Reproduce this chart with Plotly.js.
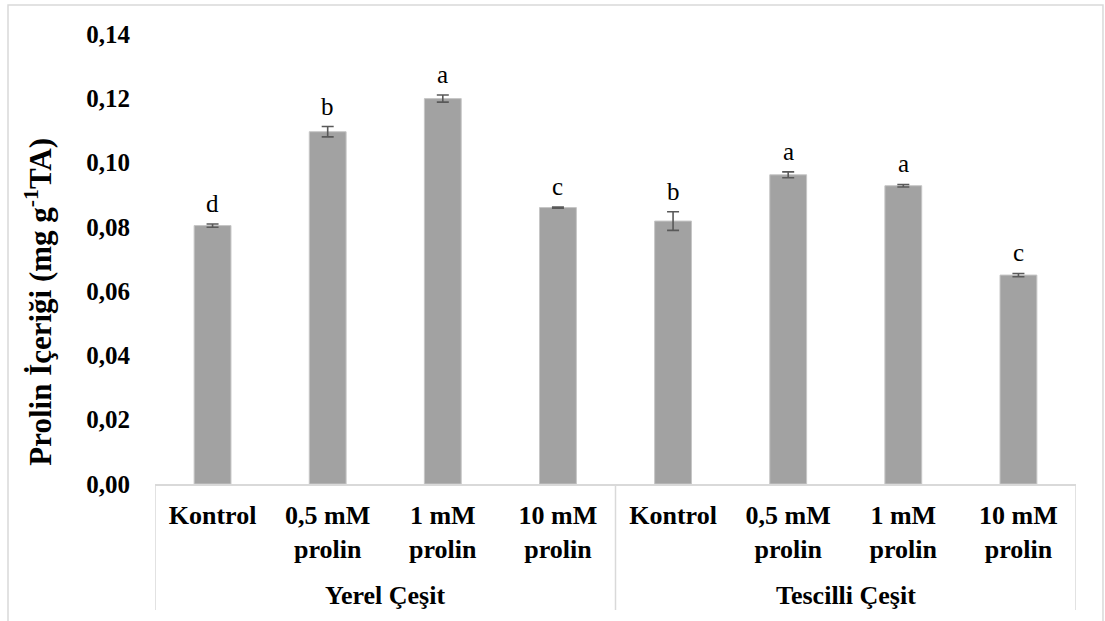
<!DOCTYPE html>
<html>
<head>
<meta charset="utf-8">
<script src="https://cdn.plot.ly/plotly-3.0.1.min.js"></script>
<style>
html,body{margin:0;padding:0;background:#fff;}
#chart{width:1105px;height:621px;}
</style>
</head>
<body>
<div id="chart"></div>
<script>
// Data
var categories = ["Kontrol", "0,5 mM<br>prolin", "1 mM<br>prolin", "10 mM<br>prolin",
                  "Kontrol", "0,5 mM<br>prolin", "1 mM<br>prolin", "10 mM<br>prolin"];
var groups = ["Yerel Çeşit", "Tescilli Çeşit"];
var groupCenters = [1.5, 5.5];
var values = [0.0804, 0.1096, 0.1199, 0.0860, 0.0818, 0.0962, 0.0928, 0.0650];
var errors = [0.0005, 0.0016, 0.0011, 0.0002, 0.0029, 0.0009, 0.0004, 0.0005];
var letters = ["d", "b", "a", "c", "b", "a", "a", "c"];
var yTicks = [0, 0.02, 0.04, 0.06, 0.08, 0.10, 0.12, 0.14];
var yTickText = ["0,00", "0,02", "0,04", "0,06", "0,08", "0,10", "0,12", "0,14"];

var xIdx = values.map(function(_, i){ return i; });

var trace = {
  type: 'bar',
  x: xIdx,
  y: values,
  width: 0.32,
  marker: {color: '#a2a2a2', line: {color: '#c6c6c6', width: 1}},
  error_y: {type: 'data', array: errors, visible: true, color: '#595959', thickness: 1.6, width: 6},
  hoverinfo: 'none'
};

var serif = 'Liberation Serif, Times New Roman, serif';
var annotations = [];
for (var i = 0; i < values.length; i++) {
  annotations.push({
    x: i, y: values[i] + errors[i], xref: 'x', yref: 'y',
    text: letters[i], showarrow: false, yanchor: 'bottom', yshift: 5,
    font: {family: serif, size: 25, color: '#000'}
  });
}
for (var g = 0; g < groups.length; g++) {
  annotations.push({
    x: groupCenters[g], y: -0.247, xref: 'x', yref: 'paper',
    text: '<b>' + groups[g] + '</b>', showarrow: false, yanchor: 'middle',
    font: {family: serif, size: 26, color: '#000'}
  });
}
annotations.push({
  x: -0.126, y: 0.405, xref: 'paper', yref: 'paper', textangle: -90,
  text: '<b>Prolin İçeriği (mg g<sup>-1</sup>TA)</b>', showarrow: false,
  xanchor: 'center', yanchor: 'middle',
  font: {family: serif, size: 31, color: '#000'}
});

var shapes = [];
[-0.5, 3.5, 7.5].forEach(function(xv){
  shapes.push({type: 'line', xref: 'x', yref: 'paper', x0: xv, x1: xv, y0: 0, y1: -0.28,
               line: {color: '#d9d9d9', width: 1.5}});
});
// outer chart border
shapes.push({type: 'rect', xref: 'paper', yref: 'paper', x0: -0.1596, x1: 1.0293, y0: -0.32, y1: 1.0644,
             line: {color: '#d9d9d9', width: 1.5}, fillcolor: 'rgba(0,0,0,0)'});

var layout = {
  width: 1105, height: 621,
  margin: {l: 155, r: 29, t: 34, b: 137},
  paper_bgcolor: '#fff', plot_bgcolor: '#fff',
  showlegend: false,
  font: {family: serif, color: '#000'},
  xaxis: {
    type: 'linear', range: [-0.5, 7.5],
    tickmode: 'array', tickvals: xIdx, ticktext: categories.map(function(c){ return '<b>' + c + '</b>'; }),
    ticks: '', showgrid: false, zeroline: false,
    showline: true, linecolor: '#d9d9d9', linewidth: 1.5,
    ticklabelstandoff: 7,
    tickfont: {family: serif, size: 26, color: '#000'},
    fixedrange: true
  },
  yaxis: {
    range: [0, 0.14], tickmode: 'array', tickvals: yTicks,
    ticktext: yTickText.map(function(t){ return '<b>' + t + '</b>'; }),
    ticks: '', showgrid: false, zeroline: false, showline: false,
    ticklabelstandoff: 24,
    tickfont: {family: serif, size: 25, color: '#000'},
    fixedrange: true
  },
  annotations: annotations,
  shapes: shapes
};

Plotly.newPlot('chart', [trace], layout, {displayModeBar: false, staticPlot: true});
</script>
</body>
</html>
